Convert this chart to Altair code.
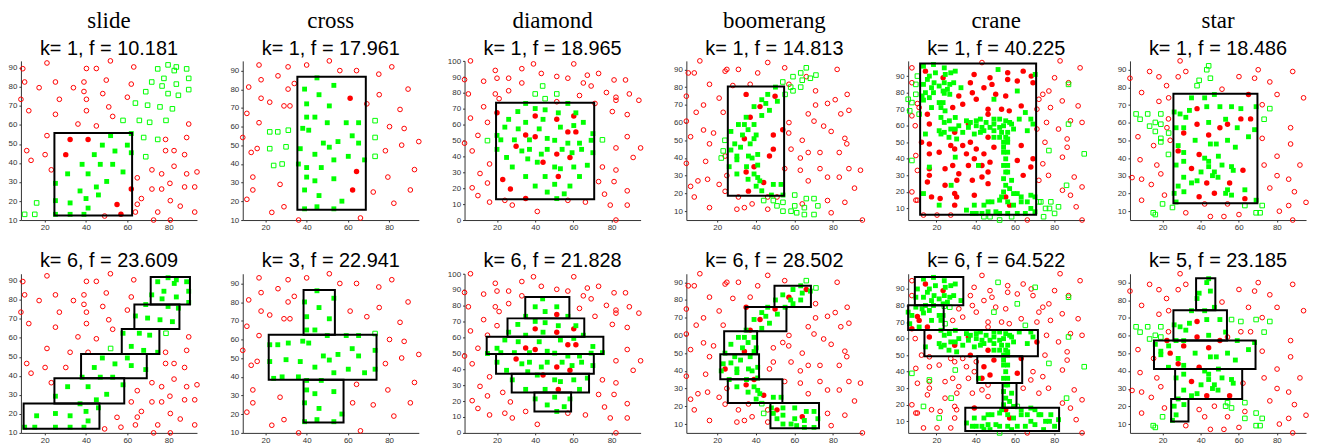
import altair as alt
import pandas as pd

NAMES = ["slide", "cross", "diamond", "boomerang", "crane", "star"]
TOP_LABELS = ["k= 1, f = 10.181", "k= 1, f = 17.961", "k= 1, f = 18.965",
              "k= 1, f = 14.813", "k= 1, f = 40.225", "k= 1, f = 18.486"]
BOTTOM_LABELS = ["k= 6, f = 23.609", "k= 3, f = 22.941", "k= 6, f = 21.828",
                 "k= 6, f = 28.502", "k= 6, f = 64.522", "k= 5, f = 23.185"]

# ---------------- slide ----------------
SLIDE_RED = [(9.4,89.6),(21.1,92.6),(51.8,93.7),(40.2,89.7),(45,89.7),(63.1,90.5),(10.3,82.6),(25.2,82.6),
    (39,82.6),(17.3,79.6),(33.9,79.6),(49.8,83.6),(61.9,81.5),(8.5,73.5),(27.1,73.5),(39,77.6),(40.2,73.5),
    (48.1,76.5),(60,74.6),(12.3,67.5),(25.2,65.6),(40.2,67.5),(51,69.5),(52.9,64.5),(36.1,60.5),(45,59.5),
    (89.7,60.5),(21.1,54.4),(11.3,46.5),(13.4,41.4),(20.2,44.4),(23.2,36.4),(78.5,52.4),(88.7,53.4),(78.5,46.5),
    (82.6,46.5),(87.7,44.4),(71.9,36.4),(76.6,34.3),(82.6,38.3),(88.7,34.3),(93.7,35.3),(64.8,32.2),(71.9,26.3),
    (76.6,26.3),(80.6,29.3),(87.7,27.4),(92.6,27.4),(66.8,21.3),(64.8,18.3),(63.9,14.2),(80.8,20.2),(85.6,17.3),
    (74.7,14.2),(92.6,14.2),(49,12.1),(72.7,10),(80.8,10),(32.3,52.4),(41,52.4),(30.2,44.4),(61.9,26.3),
    (55,18.2),(56.9,13)]
SLIDE_GREEN = [(74.7,89.5),(79.7,91.6),(83.7,90.5),(82.7,88.6),(88.7,89.5),(77.7,84.5),(89.7,84.5),(71.8,82.6),
    (76.8,80.5),(83.7,81.5),(89.7,78.6),(68.9,77.5),(79.7,76.5),(84.7,75.6),(63.9,71.5),(69.8,70.4),(75.8,69.5),
    (81.8,68.5),(57.9,62.4),(65.8,62.4),(70.8,61.4),(78.7,62.4),(67.9,53.4),(74.7,52.4),(68.9,43.3),(16.1,19),
    (10.3,13),(15.2,13),(51.9,54.4),(61.9,55.5),(47.9,49.4),(60,49.4),(44,44.4),(54,46.3),(38.1,39.3),(46.9,39.3),
    (52.9,39.3),(61.9,45.4),(31.1,34.3),(41,34.3),(57.9,35.3),(25.2,29.3),(50,30.3),(45,27.4),(37.1,25.3),
    (46,23.2),(25.2,20.2),(40,21.3),(32.3,19),(41,16.3),(25.2,13),(32.3,13),(39,13)]
SLIDE_BOX_A = [(24.7,62.3,12.4,55.8)]
SLIDE_BOX_B = [(9.8,46.5,12.2,25.5),(24.7,58.5,25.5,38.7),(37.6,69.4,38.7,51.5),(57.3,75.5,51.5,64.6),
    (63.4,85.2,64.6,77.5),(71.3,90.3,77.5,92)]
SLIDE_XDOM = [8.5, 93.7]
SLIDE_YDOM = [10, 93.7]

# ---------------- cross ----------------
CROSS_RED = [(16.9,93),(26.1,87.2),(31,92),(40,93),(51,95.2),(56.1,90),(64.2,90),(75,88.1),(81.3,92),(11.9,81.2),
    (17.9,85.1),(31,80.1),(34,83.1),(17.9,75.2),(22.1,73.1),(29,71.1),(31.9,71.1),(11,67.1),(16.9,62.1),(9,54.2),
    (16,48.3),(13.1,46.2),(13.9,33),(13.9,26.1),(11,21.1),(27.1,29.1),(29,17.1),(23.1,14.1),(36.1,10),(66.1,11.1),
    (72.3,25),(82.3,19),(90.3,26.1),(79.4,33),(92.3,37),(78.2,47.1),(86.1,50.1),(94.4,52),(80.2,60),(87.3,59),
    (85.3,69.2),(69.2,72.2),(75.2,77.1),(89.2,80.1),(61.1,75.2),(64.2,36),(62.3,26.1)]
CROSS_GREEN = [(22.1,57.2),(26,57.2),(31.1,58.1),(22.1,48.2),(30,49.2),(24,39.2),(28.1,40),(73.2,63.2),(73.2,54.2),
    (73.2,44.1),(45,86.1),(53.2,82.1),(39,80.1),(46,77.1),(40,72.2),(51,71.1),(40,65.1),(44,65.1),(50,62.1),
    (59.2,62.1),(65.2,62.1),(38.1,59.1),(41,58.1),(62.1,55.1),(55.2,52),(48.1,51.2),(65.2,51.2),(51,49),
    (36.9,48.2),(44,45.2),(60.2,44.1),(53.2,42.2),(68.1,42.2),(36,40),(40,38.1),(47.1,38.1),(40,33),(44,31),
    (53.2,32.1),(39,26.1),(46,23.1),(57.1,20.1),(39,16),(45,17.1),(53.2,16)]
CROSS_BOX_A = [(35.5,68.7,15.5,86.7)]
CROSS_BOX_B = [(38.5,53.7,62.5,86.5),(21.6,73.9,38.5,62.5),(38.5,57.9,15.6,38.5)]
CROSS_XDOM = [9, 94.4]
CROSS_YDOM = [10, 95.2]

# ---------------- diamond ----------------
DIAMOND_RED = [(6.1,100.2),(3,88.4),(5,79.4),(13,87.4),(19.1,94.2),(20,89.3),(26.1,89.3),(33,95.3),(33,86.3),
    (39.1,98.3),(43.2,92.3),(51.3,90.4),(57.1,89.3),(60.2,98.3),(67.3,91.2),(65.2,86.3),(69.3,84.4),(73.2,92.3),
    (81.3,88.2),(87.3,88.2),(89.3,79.4),(94.3,75.4),(77.3,80.3),(82.3,77.3),(82.3,75.4),(71.3,73.4),(63.2,78.4),
    (26.1,81.4),(19.1,79.4),(21.1,76.4),(13,71.3),(6.1,64.2),(15,61.5),(10,53.3),(3,48.4),(7,43.5),(16.1,35.3),
    (11.1,29.3),(15,23.3),(7,20.3),(10,15.4),(16.1,11.3),(24.1,12.4),(28,9.4),(41.1,5.4),(57.1,12.4),(66.3,11.3),
    (73.2,24.2),(76.3,16.3),(81.3,24.2),(82.3,31.5),(75.2,33.4),(79.3,9.4),(88.2,9.4),(88.2,18.4),(82.3,0),
    (91.3,39.4),(95.2,45.4),(82.3,45.4),(88.2,52.5),(88.2,66.4),(80.4,68.3),(51.3,74.5),(20,67.5),(40,65.5),
    (51.3,63.4),(60.2,65.5),(57.1,55.5),(61.3,55.5),(35,53.5),(40,52.5),(30,46.5),(51.3,41.5),(58.2,39.4),
    (44.1,36.4),(52.1,27.4),(23,25.5),(27,19.5),(35,13.5)]
DIAMOND_GREEN = [(43.9,84.4),(40,79.4),(45.2,76.4),(51.3,79.4),(15,50),(75.2,50.5),(35,73.4),(57.1,73.4),
    (30.9,68.3),(40,70.2),(45.2,69.4),(52.1,67.5),(61.3,67.5),(26.1,63.4),(44.1,63.4),(35,61.5),(65.2,61.5),
    (60.2,59.5),(24.1,58.5),(31.1,57.4),(42.1,57.4),(53.2,58.5),(70.2,54.4),(20,53.3),(22,50.5),(29.1,50.5),
    (37,50.5),(46.3,51.4),(50.2,50.2),(57.1,48.4),(63.2,48.4),(69.3,50.2),(20,44.5),(33,43.5),(37,44.5),
    (46.3,44.5),(54.1,44.5),(59.3,42.4),(64.3,44.5),(70.2,42.4),(25,39.4),(36.1,38.5),(43.2,41.5),(41.1,36.4),
    (28,33.4),(50.2,33.4),(53.2,32.3),(60.2,33.4),(67.3,34.5),(35,27.4),(45.2,27.4),(63.2,27.4),(40,21.4),
    (50.2,22.5),(58.2,21.4),(46.3,17.6),(55.2,16.5),(51.3,13.5)]
DIAMOND_BOX_A = [(19.5,70.9,13.1,73.9)]
DIAMOND_BOX_B = [(34.8,57.9,72.1,85.5),(25.5,65.7,60.6,72.1),(14.6,75.7,49.7,60.6),(19.5,70.7,37.3,49.7),
    (27.7,68.2,25.4,37.3),(39.6,58.8,13.4,25.4)]
DIAMOND_XDOM = [3, 95.2]
DIAMOND_YDOM = [0, 100.2]

# ---------------- boomerang ----------------
BOOMERANG_RED = [(11,94.8),(5,88),(8.1,88),(25,90),(24.1,89),(31,90),(41,88),(46.2,93.9),(55,90.9),(16,81.6),
    (28.1,80.9),(37.1,81.6),(4,74.9),(21,73.8),(12.9,69.9),(9.1,65.8),(23.1,65.8),(4,60.8),(12.9,55.8),(18.1,54.1),
    (6.2,52),(16,48),(4,37),(14,38.1),(24.1,41.1),(25,30.1),(15,28),(10,27.1),(21,25.1),(6.2,24),(8.1,18),
    (24.1,21.2),(31,18),(16,12),(30.2,11.1),(34.1,12),(38.1,14.1),(46.2,11.1),(46.2,18),(51,18),(57.2,81.6),
    (66.2,85.9),(71,77.9),(71,69.9),(77.2,70.8),(81.2,72.9),(87.4,75.9),(82.2,90),(67.2,64.9),(84.1,64.9),
    (88.3,66.9),(70.2,60.8),(57.2,60),(57.1,54.1),(75.2,58),(79.1,55),(86.2,51.1),(87.2,48),(64.1,50),(58.3,45),
    (67.2,43.1),(73.3,43.1),(83.3,43.1),(63.1,40),(55,34),(63.1,33.1),(73.3,34),(88.3,34),(94.3,33.1),(67.2,27.1),
    (77.2,29.2),(83.3,29.2),(91.2,23),(77.2,16),(86.2,15),(79.1,9.1),(95.3,5),(64.1,14.1),(35,75.9),(50,74.9),
    (37.1,63),(42.2,69),(54,56),(34.1,50.9),(49.1,53),(49.1,45),(47.1,41.1),(39.1,35.1),(35,32.1),(44.1,26.2),
    (36.2,21.3)]
BOOMERANG_GREEN = [(24,50),(23.1,44),(22.1,40),(54,82.9),(59.3,85.9),(55.2,75.9),(63.3,88),(66.2,90.9),(64.1,83.9),
    (68.3,85),(71.2,86.8),(58.1,80),(59.3,77.9),(63.3,80),(44.1,16),(49.1,16),(51,13),(54.1,15),(54.1,10),
    (60.2,19.1),(60.2,13),(58.3,10),(61.2,9.1),(65.2,12),(65.2,8.1),(66.2,17.1),(70.2,17.1),(72.2,13),(70.2,8.1),
    (50.2,80),(46.2,75.9),(43.1,72.9),(45.2,70.8),(51.2,72),(39.1,69),(47.1,66.9),(43.1,64),(35,63),(31,58.9),
    (34.1,58.9),(39.1,58.9),(27.1,55),(36,56),(33.1,53),(40.2,53),(39.1,50.9),(29.1,48),(27.1,44.5),(37.1,48),
    (32.1,46.1),(41,42),(30.2,41.1),(30.2,39),(36.2,41.1),(38.1,40),(41,36),(26.2,35.1),(35.2,35.1),(30.2,31),
    (39.1,31),(41,29),(36,28),(42.1,27.1),(40.2,24.1),(49.1,25.1),(53.1,25.1),(43.1,21.5),(48.1,19.1),(54.1,19.1)]
BOOMERANG_BOX_A = [(25.5,54.7,18.7,80.3)]
BOOMERANG_BOX_B = [(49.7,68.6,76.1,88),(34.7,55.9,62.4,76.1),(23.6,40.7,49.4,62.4),(21.6,41.7,35.3,49.4),
    (25.5,53.8,21.9,35.3),(47.6,72.8,7.6,21.9)]
BOOMERANG_XDOM = [4, 95.3]
BOOMERANG_YDOM = [5, 94.8]

# ---------------- crane ----------------
CRANE_RED = [(7.5,95),(7.5,86),(10.3,73.4),(11.2,71),(7.5,66),(9.2,60),(43.2,98.2),(83,99.2),(93.2,95),(80.2,89),
    (87.3,86),(77.3,81),(74.2,79),(72.2,76),(78.1,71),(84.1,75),(92.2,72),(71.2,70),(76.1,62),(82.2,58),(88.3,63),
    (94.2,62),(71.2,58),(86.6,52),(75.3,50),(9.5,42),(10.3,33),(7.5,20),(9.5,15),(10.3,15),(13.4,6),(20.3,6),
    (27.3,6),(66.3,3),(94.2,3),(72.2,27),(74.2,37),(77.1,30),(86.6,47),(84.2,41),(90.2,29),(94.2,23),(84.2,21),
    (88.3,18),(91.2,11),(14.4,93),(23.4,89),(39.2,91),(47.3,89),(56.3,92),(64.2,93),(68.3,90),(56.3,88),(37.3,86),
    (48.3,85),(61.2,87),(69.2,86),(44.2,83),(38.3,80),(31.4,78),(50.2,79),(55.3,78),(40.3,76),(33.4,73),(28.3,71),
    (46.3,70),(53.2,70),(57.1,69),(63.2,72),(46.3,67),(15.4,67),(16.4,61),(36.3,61),(29.3,56),(12.4,50),(16.4,49),
    (27.3,48),(29.3,46),(37.3,50),(33.4,48),(40.3,46),(16.4,43),(21.4,44),(35.3,43),(44.2,43),(49.3,47),(63.2,48),
    (39.3,40),(47.3,38),(61.2,39),(69.2,40),(16.4,34),(16.4,30),(24.4,34),(28.3,36),(36.3,36),(43.2,36),(68.1,35),
    (31.4,31),(46.3,32),(64.2,30),(15.4,26),(30.4,27),(38.3,27),(43.2,29),(46.3,25),(24.4,24),(29.3,19),(30.3,17),
    (39.3,18),(17.5,17),(21.9,16),(29.3,12),(55.3,17),(57.3,12),(46.3,53)]
CRANE_GREEN = [(10.3,90),(9.5,85),(9.5,79),(5.6,76),(7.5,74),(6.4,69),(11.2,67),(87.3,85),(87.3,61),(7.5,39),
    (77.3,45),(95.3,43),(86.3,24),(72.2,14),(73.2,14),(78.3,14),(75.6,10),(77.6,10),(82.2,11),(80.2,7),(74.6,5),
    (44.2,5),(47.3,5),(52.2,3),(58.3,5),(13.4,96),(18.5,97),(24,95),(19.5,92),(24.5,91),(27.3,92),(29.6,93),
    (51.4,94),(16.4,90),(15.4,88),(13.4,85),(18.8,86),(24,86),(26.8,85),(28.8,86),(17.5,83),(21.4,84),(25.6,82),
    (32.5,83),(14.4,80),(18.5,80),(23.4,81),(24,79.6),(26.8,79),(12.7,78),(16.4,77),(13.4,75.5),(21.4,74),
    (23.4,74),(22.3,71),(17.5,71),(24.4,69),(61.2,81),(49.3,76),(70.3,91),(22.3,65),(29.6,65),(26.6,63),(24,62),
    (35.3,63),(40.3,63),(42.4,64),(45.3,62),(49.3,64),(52.2,64),(55.3,63),(65.3,68),(62.2,64),(68.1,64),(69.2,61),
    (57.3,62),(58.3,61),(49.3,61),(40.3,60),(37.3,62),(31.4,60),(27.3,58),(21.4,57),(22.3,55),(14.4,55),(24,56),
    (29.6,58),(33.4,56),(36.3,59),(43.2,59),(44.2,57),(39.3,55),(42.4,56),(47.3,59),(49.3,57),(52.2,59),(53.2,56),
    (54.2,60),(56.3,56),(59.3,58),(66.3,57),(26.4,53),(30.3,52),(49.3,53),(52.2,53),(55.3,53),(56.3,52),(54.2,50),
    (56.3,50),(54.2,47),(56.3,44),(54.2,44),(55.3,40),(29.6,41),(16.4,35),(41.4,36),(54.2,36),(56.3,36),(55.3,32),
    (56.3,32),(54.2,28),(58.3,27),(27.5,24),(55.3,24),(57.3,22),(54.2,20),(59.3,19),(61.2,19),(13.4,19),(53.2,17),
    (63.2,17),(68.1,18),(70.2,17),(46.3,14),(48.3,14),(52.2,15),(56.3,14),(63.2,14),(66.3,14),(21.4,12),(44.2,12),
    (39.3,12),(59.3,12),(68.1,10),(35.3,9),(38.3,7),(40.3,7),(43.2,7),(46.3,8),(50.3,8),(52.2,7),(56.3,7),(61.2,7),
    (65.3,7),(70.2,8)]
CRANE_BOX_A = [(11.7,70.8,6.2,97.6)]
CRANE_BOX_B = [(9,33.7,80.2,97.2),(5.6,23.7,65.2,80.2),(13.9,71.7,49.3,65.2),(40.8,63.7,33.1,49.3),
    (53.7,60.8,18.2,33.1),(34.7,82.5,4.2,18.2)]
CRANE_XDOM = [5.6, 95.3]
CRANE_YDOM = [3, 99.2]

# ---------------- star ----------------
STAR_RED = [(29.2,95),(13.2,89),(32.2,89),(18.1,86),(28.2,86),(2.9,85.2),(22.1,81),(9,77.1),(18.1,72.1),(23.2,74.1),
    (51.2,79),(60.1,86.1),(68.3,85.2),(70.2,90),(76.3,83.1),(88.3,89),(80.1,76),(94,74.1),(72.3,70.2),(23.1,62.2),
    (22.3,57.2),(24,50.1),(7.1,52.1),(15.3,47.1),(72.3,51.2),(87.2,57.2),(87.2,48),(8.2,39.1),(17,36.1),(19.1,31.1),
    (4,29),(9,28.1),(14.1,25.1),(80.1,41.1),(73.3,36.1),(92.1,36.1),(80.1,30.1),(86.2,28.1),(76.3,23.1),(89.2,21),
    (9,16.2),(21,19.1),(42.1,14.1),(54.1,14.1),(32.2,9.1),(45.1,7),(52.2,7),(60.1,8.1),(86.2,13.2),(81.3,10),
    (88.3,5),(95.3,15),(65.1,76),(38.1,68),(61.1,62.2),(66.2,62.2),(38.1,59.2),(50.1,57.2),(54.1,59.2),(31.1,54.2),
    (44.2,53.1),(28.2,44.1),(39.2,42.1),(35.2,34.1),(62.2,33.1),(43.2,26),(55.2,26),(39.2,18.2),(47.2,20.1),
    (63.2,17.1)]
STAR_GREEN = [(44.2,92.2),(43.2,90),(45.1,85.2),(39.2,84),(38.1,81),(6.1,65),(12.2,65),(19.1,65),(8.2,62),
    (13.2,58.1),(16.2,60.2),(19.1,59.2),(16.2,55.1),(19.1,51.2),(19.1,49.2),(23.2,54.2),(23.1,42.1),(76.3,68),
    (73.3,62),(20,14.1),(15.1,9.1),(16.2,8.1),(25.2,12.1),(63.2,13.2),(72.3,13.2),(69.1,9.1),(71.2,9.1),
    (47.2,76),(35.2,74.1),(42.1,74.1),(26.1,66.1),(29.2,65),(34.1,67),(32.2,63.1),(43.2,69.1),(50.1,69.1),
    (56.2,69.1),(61.1,68),(69.1,69.1),(53.1,62),(44.2,60.2),(27.1,57.2),(31.1,57.2),(59.2,57.2),(68.3,56.1),
    (65.1,52.1),(37.1,50.1),(54.1,50.1),(45.1,48),(48.2,48),(28.2,47.1),(58.2,46.2),(31.1,43.2),(42.1,40),
    (49.3,41.1),(44.2,38.2),(27.1,36.1),(31.1,38.2),(44.2,35.2),(51.2,36.1),(56.2,35.2),(57.1,33.1),(40.2,32.2),
    (47.2,32.2),(46.2,30.1),(49.1,29.2),(31.1,29.2),(35.2,26),(38.1,27.2),(28.2,24.2),(54.1,22.1),(53.1,20.1),
    (56.2,19.1),(31.2,21),(26.1,20.1),(63.2,22.1),(69.1,16.2),(27.1,15.2)]
STAR_BOX_A = [(25.7,69.8,14.5,76.4)]
STAR_BOX_B = [(37.6,47.7,74.3,92.4),(25.7,53.8,57.3,74.3),(15.5,68.8,41.2,57.3),(26.6,61.8,24.2,41.2),
    (24.5,33.6,11.5,24.2)]
STAR_XDOM = [2.9, 95.3]
STAR_YDOM = [5, 95]

YTICKS_STD = [10, 20, 30, 40, 50, 60, 70, 80, 90]
YTICKS_DIAMOND = [0, 10, 20, 30, 40, 50, 60, 70, 80, 90, 100]
XTICKS = [20, 40, 60, 80]

DATASETS = [
    (SLIDE_RED, SLIDE_GREEN, SLIDE_BOX_A, SLIDE_BOX_B, SLIDE_XDOM, SLIDE_YDOM, YTICKS_STD),
    (CROSS_RED, CROSS_GREEN, CROSS_BOX_A, CROSS_BOX_B, CROSS_XDOM, CROSS_YDOM, YTICKS_STD),
    (DIAMOND_RED, DIAMOND_GREEN, DIAMOND_BOX_A, DIAMOND_BOX_B, DIAMOND_XDOM, DIAMOND_YDOM, YTICKS_DIAMOND),
    (BOOMERANG_RED, BOOMERANG_GREEN, BOOMERANG_BOX_A, BOOMERANG_BOX_B, BOOMERANG_XDOM, BOOMERANG_YDOM, YTICKS_STD),
    (CRANE_RED, CRANE_GREEN, CRANE_BOX_A, CRANE_BOX_B, CRANE_XDOM, CRANE_YDOM, YTICKS_STD),
    (STAR_RED, STAR_GREEN, STAR_BOX_A, STAR_BOX_B, STAR_XDOM, STAR_YDOM, YTICKS_STD),
]

RED = "#ff0000"
GREEN = "#00ff00"
W, H = 177, 160


def inside(x, y, boxes):
    return any(b[0] <= x <= b[1] and b[2] <= y <= b[3] for b in boxes)


def panel(red, green, boxes, xdom, ydom, yticks, title):
    rows = [dict(x=x, y=y, c="r", fill=int(inside(x, y, boxes))) for x, y in red]
    rows += [dict(x=x, y=y, c="g", fill=int(inside(x, y, boxes))) for x, y in green]
    df = pd.DataFrame(rows)
    bdf = pd.DataFrame(boxes, columns=["x1", "x2", "y1", "y2"])
    xs = alt.Scale(domain=xdom, nice=False, zero=False)
    ys = alt.Scale(domain=ydom, nice=False, zero=False)
    xax = alt.Axis(values=XTICKS, title=None, grid=False)
    yax = alt.Axis(values=yticks, title=None, grid=False)
    enc = dict(x=alt.X("x:Q", scale=xs, axis=xax), y=alt.Y("y:Q", scale=ys, axis=yax))
    base = alt.Chart(df)
    ro = base.transform_filter("datum.c == 'r' && datum.fill == 0").mark_point(
        shape="circle", filled=False, color=RED, size=22, strokeWidth=1, opacity=1).encode(**enc)
    go = base.transform_filter("datum.c == 'g' && datum.fill == 0").mark_point(
        shape="square", filled=False, color=GREEN, size=21, strokeWidth=1, opacity=1).encode(**enc)
    rf = base.transform_filter("datum.c == 'r' && datum.fill == 1").mark_point(
        shape="circle", filled=True, color=RED, size=30, opacity=1).encode(**enc)
    gf = base.transform_filter("datum.c == 'g' && datum.fill == 1").mark_point(
        shape="square", filled=True, color=GREEN, size=24, opacity=1).encode(**enc)
    rects = alt.Chart(bdf).mark_rect(fillOpacity=0, stroke="black", strokeWidth=2).encode(
        x=alt.X("x1:Q", scale=xs, axis=xax), x2="x2:Q",
        y=alt.Y("y1:Q", scale=ys, axis=yax), y2="y2:Q")
    return alt.layer(ro, go, rf, gf, rects).properties(width=W, height=H, title=title)


charts = []
for i, d in enumerate(DATASETS):
    red, green, ba, bb, xd, yd, yt = d
    t = alt.TitleParams(text=NAMES[i], subtitle=TOP_LABELS[i], font="Liberation Serif", fontSize=23,
                        fontWeight="normal", color="black", subtitleFont="Liberation Sans",
                        subtitleFontSize=20, subtitleColor="black", subtitlePadding=6, offset=-2,
                        anchor="middle")
    charts.append(panel(red, green, ba, xd, yd, yt, t))
for i, d in enumerate(DATASETS):
    red, green, ba, bb, xd, yd, yt = d
    t = alt.TitleParams(text=BOTTOM_LABELS[i], font="Liberation Sans", fontSize=20, fontWeight="normal",
                        color="black", offset=-2, anchor="middle")
    charts.append(panel(red, green, bb, xd, yd, yt, t))

chart = alt.concat(*charts, columns=6, spacing={"row": 54, "column": 46}, bounds="flush").properties(
    padding=0
).configure_view(strokeWidth=0).configure_axis(
    labelFont="Liberation Sans", labelFontSize=8, labelColor="#333333", domainColor="#333333",
    tickColor="#333333", tickSize=2, labelPadding=2, domainWidth=1
)

chart.save("out.html", embed_options={"renderer": "svg", "actions": False})
